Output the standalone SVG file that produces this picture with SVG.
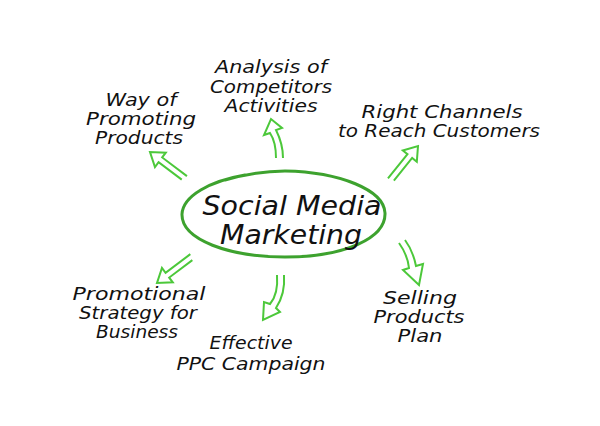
<svg xmlns="http://www.w3.org/2000/svg" width="600" height="426" viewBox="0 0 600 426">
<style>
.t{font-family:"DejaVu Sans","Liberation Sans",sans-serif;font-style:italic;font-size:18px;fill:#111;text-anchor:middle}
.c{font-size:27px}
.a{fill:#fff;stroke:#4cc83a;stroke-width:2;stroke-linejoin:miter}
</style>
<rect width="600" height="426" fill="#fff"/>
<g id="center">
<path d="M245,175 C210,181 183,196 182,214 C181,240 230,257 285,257 C345,257 386,238 385,213 C384,190 340,172 285,171 C268,171 250,173 225,180" fill="none" stroke="#3da22e" stroke-width="3" stroke-linecap="round"/>
<text class="t c" x="292" y="215" textLength="179" lengthAdjust="spacingAndGlyphs">Social Media</text>
<text class="t c" x="291" y="244" textLength="142" lengthAdjust="spacingAndGlyphs">Marketing</text>
</g>
<g id="connectors">
<path class="a" transform="translate(150,152) rotate(-53)" d="M3,44 L3,13 L9,13 L0,0 L-9,13 L-3,13 L-3,42"/>
<path class="a" d="M276,158 C276,148 274,139 270,133 L264,135 L271,119 L282,128 L276,130 C280,138 283,148 283,158"/>
<path class="a" transform="translate(418,146) rotate(39)" d="M3,42 L3,13 L9,13 L0,0 L-9,13 L-3,13 L-3,44"/>
<path class="a" d="M399,243 C404,250 408,258 409,268 L403,270 L419,285 L423,264 L416,266 C414,256 411,248 405,240"/>
<path class="a" d="M277,275 C278,288 276,297 270,304 L264,302 L263,320 L280,312 L276,308 C282,299 285,288 284,275"/>
<path class="a" transform="translate(157,283) rotate(-127)" d="M3,44 L3,13 L9,13 L0,0 L-9,13 L-3,13 L-3,42"/>
</g>
<g id="way">
<text class="t" x="141" y="106" textLength="71" lengthAdjust="spacingAndGlyphs">Way of</text>
<text class="t" x="141" y="125" textLength="110" lengthAdjust="spacingAndGlyphs">Promoting</text>
<text class="t" x="139" y="144" textLength="88" lengthAdjust="spacingAndGlyphs">Products</text>
</g>
<g id="analysis">
<text class="t" x="271" y="73" textLength="112" lengthAdjust="spacingAndGlyphs">Analysis of</text>
<text class="t" x="271" y="93" textLength="122" lengthAdjust="spacingAndGlyphs">Competitors</text>
<text class="t" x="271" y="112" textLength="93" lengthAdjust="spacingAndGlyphs">Activities</text>
</g>
<g id="channels">
<text class="t" x="442" y="118" textLength="161" lengthAdjust="spacingAndGlyphs">Right Channels</text>
<text class="t" x="439" y="137" textLength="202" lengthAdjust="spacingAndGlyphs">to Reach Customers</text>
</g>
<g id="selling">
<text class="t" x="420" y="304" textLength="74" lengthAdjust="spacingAndGlyphs">Selling</text>
<text class="t" x="419" y="323" textLength="91" lengthAdjust="spacingAndGlyphs">Products</text>
<text class="t" x="420" y="342" textLength="45" lengthAdjust="spacingAndGlyphs">Plan</text>
</g>
<g id="ppc">
<text class="t" x="251" y="349" textLength="83" lengthAdjust="spacingAndGlyphs">Effective</text>
<text class="t" x="251" y="370" textLength="149" lengthAdjust="spacingAndGlyphs">PPC Campaign</text>
</g>
<g id="strategy">
<text class="t" x="139" y="300" textLength="133" lengthAdjust="spacingAndGlyphs">Promotional</text>
<text class="t" x="138" y="319" textLength="118" lengthAdjust="spacingAndGlyphs">Strategy for</text>
<text class="t" x="137" y="338" textLength="82" lengthAdjust="spacingAndGlyphs">Business</text>
</g>
</svg>
